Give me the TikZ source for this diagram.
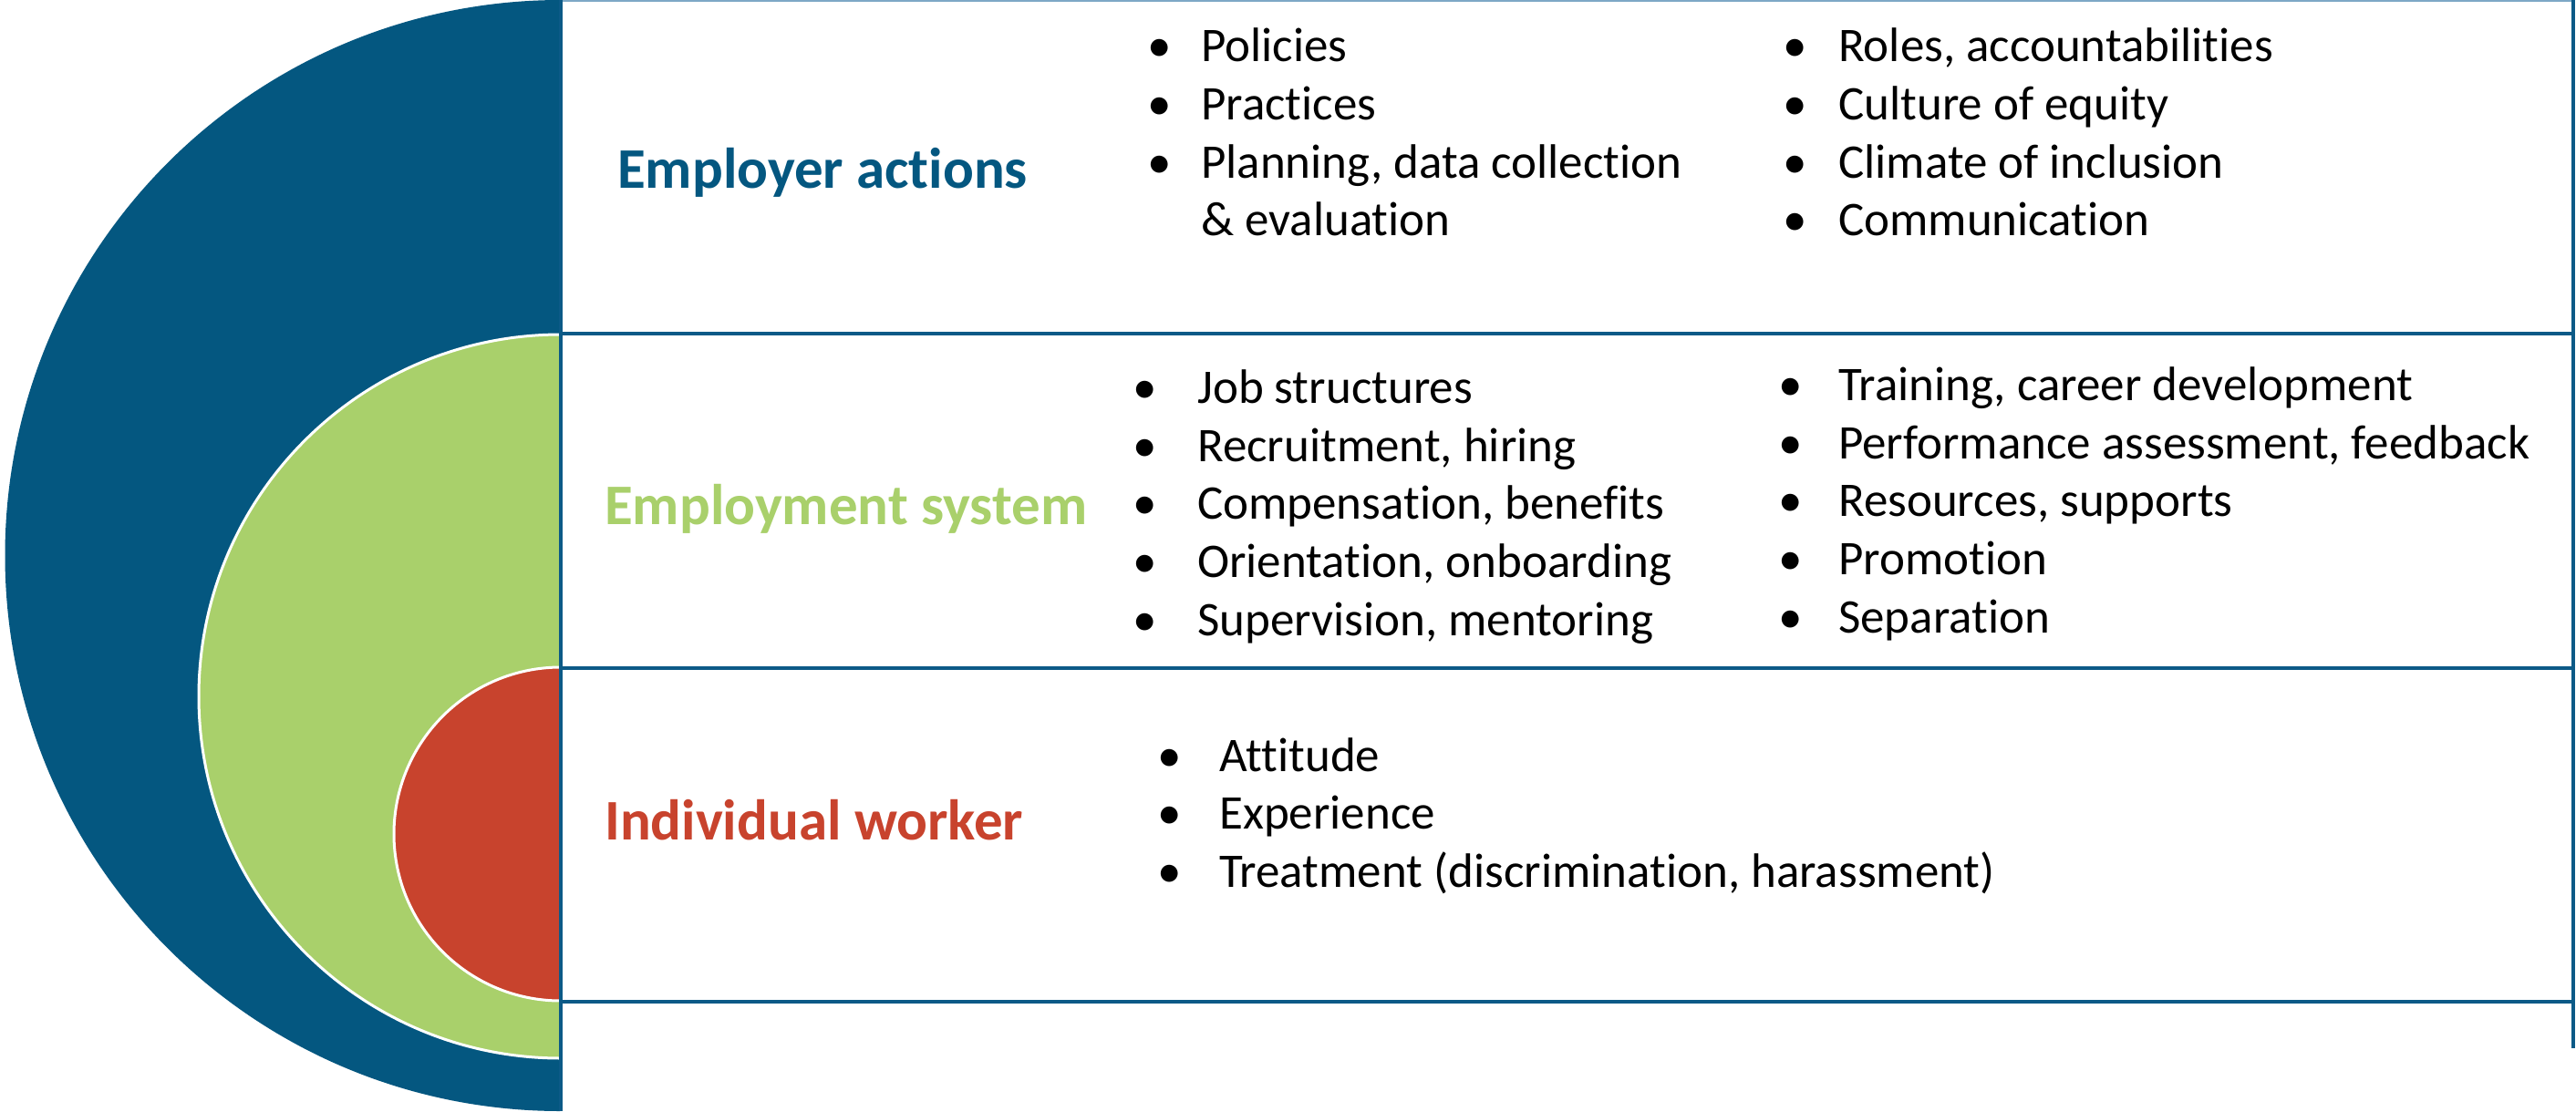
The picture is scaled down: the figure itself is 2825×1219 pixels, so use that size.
\documentclass[tikz,border=0pt]{standalone}
\usepackage{fontspec}
\setmainfont{Carlito}[Ligatures=NoCommon]
\definecolor{cblue}{RGB}{4,87,128}
\definecolor{cgreen}{RGB}{169,208,107}
\definecolor{cred}{RGB}{200,67,45}
\definecolor{cline}{RGB}{12,90,135}
\definecolor{clight}{RGB}{125,168,198}
\newcommand\itemfont{\fontsize{53}{64}\selectfont}
\newcommand\headfont{\fontsize{63}{76}\selectfont\bfseries}
\newcommand\myitem[5]{\node[bul] (#1-b) at (#2,#4) {•}; \node[itm] (#1) at (#3,#4) {#5};}
\begin{document}
\begin{tikzpicture}[x=1pt,y=-1pt,
  itm/.style={anchor=base west,inner sep=0pt,font=\itemfont},
  bul/.style={anchor=base,inner sep=0pt,font=\itemfont},
  head/.style={anchor=base west,inner sep=0pt,font=\headfont},
  rule/.style={draw=cline,line width=3.5pt}]
\fill[white] (0,0) rectangle (2825,1219);
\useasboundingbox (0,0) rectangle (2825,1219);
% nested half discs
\begin{scope}
\clip (0,0) rectangle (614,1219);
\fill[cblue] (615,609.5) circle[radius=609.5pt];
\filldraw[fill=cgreen,draw=white,line width=3pt] (615,764) circle[radius=397pt];
\filldraw[fill=cred,draw=white,line width=3pt] (615,915) circle[radius=183pt];
\end{scope}
% table rules
\draw[clight,line width=2pt] (615,1) -- (2822,1);
\draw[rule] (615,366) -- (2822,366);
\draw[rule] (615,733) -- (2822,733);
\draw[rule] (615,1099) -- (2822,1099);
\draw[rule] (615,0) -- (615,1219);
\draw[rule] (2822,0) -- (2822,1150);
% headings
\node[head,text=cblue] (h1) at (677,206) {Employer actions};
\node[head,text=cgreen] (h2) at (663,575) {Employment system};
\node[head,text=cred] (h3) at (663,921) {Individual worker};
% row 1
\myitem{a1}{1272}{1317}{67}{Policies}
\myitem{a2}{1272}{1317}{131}{Practices}
\myitem{a3}{1272}{1317}{195}{Planning, data collection}
\node[itm] (a4) at (1317,258) {\& evaluation};
\myitem{b1}{1969}{2016}{67}{Roles, accountabilities}
\myitem{b2}{1969}{2016}{131}{Culture of equity}
\myitem{b3}{1969}{2016}{195}{Climate of inclusion}
\myitem{b4}{1969}{2016}{258}{Communication}
% row 2
\myitem{c1}{1256}{1313}{442}{Job structures}
\myitem{c2}{1256}{1313}{506}{Recruitment, hiring}
\myitem{c3}{1256}{1313}{569}{Compensation, benefits}
\myitem{c4}{1256}{1313}{633}{Orientation, onboarding}
\myitem{c5}{1256}{1313}{697}{Supervision, mentoring}
\myitem{d1}{1964}{2016}{439}{Training, career development}
\myitem{d2}{1964}{2016}{503}{Performance assessment, feedback}
\myitem{d3}{1964}{2016}{566}{Resources, supports}
\myitem{d4}{1964}{2016}{630}{Promotion}
\myitem{d5}{1964}{2016}{694}{Separation}
% row 3
\myitem{e1}{1283}{1337}{846}{Attitude}
\myitem{e2}{1283}{1337}{909}{Experience}
\myitem{e3}{1283}{1337}{973}{Treatment (discrimination, harassment)}
\end{tikzpicture}
\end{document}
